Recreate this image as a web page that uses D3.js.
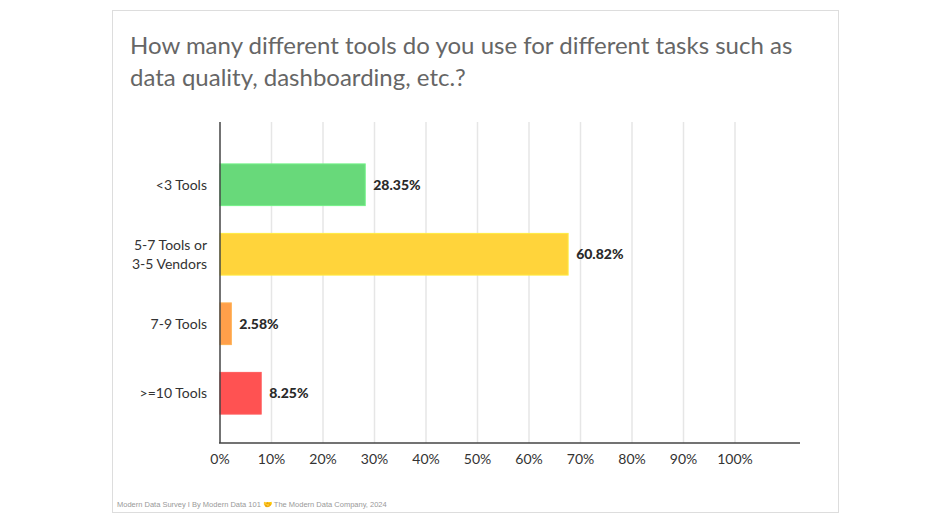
<!DOCTYPE html>
<html><head><meta charset="utf-8">
<script src="https://cdn.jsdelivr.net/npm/d3@7"></script>
<style>body{margin:0;background:#fff}</style></head>
<body><svg id="c" width="950" height="523"></svg>
<script>
const categories = ["<3 Tools", "5-7 Tools or\n3-5 Vendors", "7-9 Tools", ">=10 Tools"];
const barValues = [28.2, 67.6, 2.2, 8.0];
const valueLabels = ["28.35%", "60.82%", "2.58%", "8.25%"];
const colors = ["#68d97a", "#ffd43b", "#ff9f4a", "#ff5252"];
const tickValues = [0,10,20,30,40,50,60,70,80,90,100];

const svg = d3.select("#c");
svg.append("rect").attr("x",112.5).attr("y",10.5).attr("width",726).attr("height",502)
  .attr("fill","#fff").attr("stroke","#ddd");
svg.append("text").attr("x",130).attr("y",54).attr("fill","#666")
  .style("font-family","Lato, 'Open Sans', sans-serif").style("font-size","24px")
  .text("How many different tools do you use for different tasks such as");
svg.append("text").attr("x",130).attr("y",86).attr("fill","#666")
  .style("font-family","Lato, 'Open Sans', sans-serif").style("font-size","24px")
  .text("data quality, dashboarding, etc.?");

const x = d3.scaleLinear().domain([0,100]).range([220,735]);
const y = d3.scaleBand().domain(categories).range([150,428]).paddingInner(0.4).paddingOuter(0.2);

svg.append("g").selectAll("line").data(tickValues.slice(1)).join("line")
  .attr("x1",d=>x(d)).attr("x2",d=>x(d)).attr("y1",122).attr("y2",443)
  .attr("stroke","#e6e6e6").attr("stroke-width",1.5);

svg.append("g").selectAll("rect").data(categories).join("rect")
  .attr("x",x(0)).attr("y",d=>y(d)).attr("height",y.bandwidth())
  .attr("width",(d,i)=>x(barValues[i])-x(0))
  .attr("fill",(d,i)=>colors[i]).attr("stroke",(d,i)=>d3.color(colors[i]).brighter(0.3)).attr("stroke-width",1);

svg.append("g").selectAll("text").data(categories).join("text")
  .attr("x",(d,i)=>x(barValues[i])+8).attr("y",d=>y(d)+y.bandwidth()/2+5)
  .attr("fill","#2a2a2a").style("font-family","Lato, sans-serif").style("font-weight","900").style("font-size","14px")
  .text((d,i)=>valueLabels[i]);

const lab = svg.append("g").selectAll("text").data(categories).join("text")
  .attr("text-anchor","end").attr("fill","#333")
  .style("font-family","Lato, sans-serif").style("font-size","14px");
lab.each(function(d){
  const lines=d.split("\n"); const cy=y(d)+y.bandwidth()/2;
  const t=d3.select(this);
  lines.forEach((l,k)=>t.append("tspan").attr("x",207).attr("y",cy+5+(k-(lines.length-1)/2)*19).text(l));
});

svg.append("line").attr("x1",220).attr("x2",220).attr("y1",122).attr("y2",443).attr("stroke","#444").attr("stroke-width",1.5);
svg.append("line").attr("x1",219).attr("x2",800).attr("y1",443).attr("y2",443).attr("stroke","#444").attr("stroke-width",1.5);

svg.append("g").selectAll("text").data(tickValues).join("text")
  .attr("x",d=>x(d)).attr("y",464).attr("text-anchor","middle").attr("fill","#333")
  .style("font-family","Lato, sans-serif").style("font-size","14px").text(d=>d+"%");

svg.append("text").attr("x",117).attr("y",507).attr("fill","#999")
  .style("font-family","Liberation Sans, Arial, sans-serif").style("font-size","7.5px")
  .text("Modern Data Survey I By Modern Data 101 🤝 The Modern Data Company, 2024");
</script></body></html>
